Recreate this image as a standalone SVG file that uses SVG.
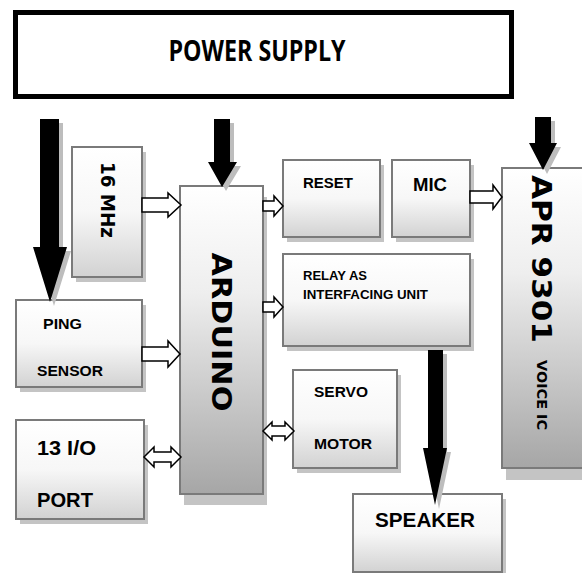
<svg xmlns="http://www.w3.org/2000/svg" width="582" height="573" viewBox="0 0 582 573">
<defs>
<linearGradient id="gl" x1="0" y1="0" x2="0" y2="1">
<stop offset="0" stop-color="#ffffff"/><stop offset="0.5" stop-color="#f7f7f7"/><stop offset="1" stop-color="#d2d2d2"/>
</linearGradient>
<linearGradient id="gd" x1="0" y1="0" x2="0" y2="1">
<stop offset="0" stop-color="#ffffff"/><stop offset="0.35" stop-color="#eeeeee"/><stop offset="1" stop-color="#a6a6a6"/>
</linearGradient>
<style>
.box{stroke:#7a7a7a;stroke-width:2}
.sh{fill:#c4c4c4}
.t{font-family:"Liberation Sans",Arial,sans-serif;font-weight:bold;fill:#000}
.v{font-family:"DejaVu Sans","Liberation Sans",sans-serif;font-weight:bold;fill:#000}
.ha{fill:#fff;stroke:#000;stroke-width:1.5;stroke-linejoin:miter}
.ba{fill:#000}
.bs{fill:#bdbdbd}
</style>
</defs>
<rect width="582" height="573" fill="#fff"/>

<g id="power-supply">
<rect x="15.5" y="12.5" width="496" height="84" fill="#fff" stroke="#000" stroke-width="5"/>
<text x="257" y="61" text-anchor="middle" font-family="'Open Sans','Noto Sans',sans-serif" font-weight="bold" font-size="29" textLength="177" lengthAdjust="spacingAndGlyphs">POWER SUPPLY</text>
</g>

<g id="mhz16">
<rect class="sh" x="76" y="152" width="70" height="130"/>
<rect class="box" x="72" y="147" width="70" height="130" fill="url(#gl)"/>
<text class="v" transform="translate(108,200) rotate(90)" x="0" y="7" text-anchor="middle" font-size="20" textLength="76" lengthAdjust="spacingAndGlyphs">16 MHz</text>
</g>

<g id="arduino">
<rect class="sh" x="184" y="197" width="83" height="308"/>
<rect class="box" x="180" y="186" width="83" height="308" fill="url(#gd)"/>
<text class="v" transform="translate(221,332) rotate(90)" x="0" y="9.5" text-anchor="middle" font-size="26" textLength="159" lengthAdjust="spacingAndGlyphs">ARDUINO</text>
</g>

<g id="reset">
<rect class="sh" x="287" y="165" width="97" height="77"/>
<rect class="box" x="283" y="160" width="97" height="77" fill="url(#gl)"/>
<text class="t" x="303" y="188" font-size="15" textLength="50" lengthAdjust="spacingAndGlyphs">RESET</text>
</g>

<g id="mic">
<rect class="sh" x="396" y="165" width="78" height="77"/>
<rect class="box" x="392" y="160" width="78" height="77" fill="url(#gl)"/>
<text class="t" x="413" y="191" font-size="19" textLength="34" lengthAdjust="spacingAndGlyphs">MIC</text>
</g>

<g id="apr9301">
<rect class="sh" x="506" y="179" width="90" height="301"/>
<rect class="box" x="502" y="168" width="90" height="300" fill="url(#gd)"/>
<text class="v" transform="translate(542,259) rotate(90)" x="0" y="10" text-anchor="middle" font-size="26" textLength="168" lengthAdjust="spacingAndGlyphs">APR 9301</text>
<text class="v" transform="translate(542,395) rotate(90)" x="0" y="5" text-anchor="middle" font-size="14" textLength="70" lengthAdjust="spacingAndGlyphs">VOICE IC</text>
</g>

<g id="relay">
<rect class="sh" x="287" y="259" width="187" height="92"/>
<rect class="box" x="283" y="254" width="187" height="92" fill="url(#gl)"/>
<text class="t" x="303" y="280" font-size="13" textLength="64" lengthAdjust="spacingAndGlyphs">RELAY AS</text>
<text class="t" x="303" y="299" font-size="13" textLength="125" lengthAdjust="spacingAndGlyphs">INTERFACING UNIT</text>
</g>

<g id="servo-motor">
<rect class="sh" x="297" y="375" width="104" height="98"/>
<rect class="box" x="293" y="370" width="104" height="98" fill="url(#gl)"/>
<text class="t" x="314" y="397" font-size="15" textLength="54" lengthAdjust="spacingAndGlyphs">SERVO</text>
<text class="t" x="314" y="449" font-size="15" textLength="58" lengthAdjust="spacingAndGlyphs">MOTOR</text>
</g>

<g id="speaker">
<rect class="sh" x="357" y="499" width="149" height="80"/>
<rect class="box" x="353" y="494" width="149" height="78" fill="url(#gl)"/>
<text class="t" x="375" y="527" font-size="20" textLength="100" lengthAdjust="spacingAndGlyphs">SPEAKER</text>
</g>

<g id="ping-sensor">
<rect class="sh" x="20" y="305" width="126" height="87"/>
<rect class="box" x="16" y="300" width="126" height="87" fill="url(#gl)"/>
<text class="t" x="43" y="329" font-size="15" textLength="39" lengthAdjust="spacingAndGlyphs">PING</text>
<text class="t" x="37" y="376" font-size="15" textLength="66" lengthAdjust="spacingAndGlyphs">SENSOR</text>
</g>

<g id="io-port">
<rect class="sh" x="20" y="425" width="128" height="99"/>
<rect class="box" x="16" y="420" width="128" height="99" fill="url(#gl)"/>
<text class="t" x="37" y="455" font-size="21" textLength="59" lengthAdjust="spacingAndGlyphs">13 I/O</text>
<text class="t" x="37" y="507" font-size="21" textLength="56" lengthAdjust="spacingAndGlyphs">PORT</text>
</g>

<g id="connectors">
<polygon class="bs" points="44,123 63,123 63,251 71,251 54,306 37,251 44,251"/>
<polygon class="ba" points="40,119 59,119 59,247 67,247 50,302 33,247 40,247"/>
<polygon class="bs" points="218,123 234,123 234,166 241,166 226,191 212,166 218,166"/>
<polygon class="ba" points="214,119 230,119 230,162 237,162 222,187 208,162 214,162"/>
<polygon class="bs" points="539,121 555,121 555,147 561,147 547,174 533,147 539,147"/>
<polygon class="ba" points="535,117 551,117 551,143 557,143 543,170 529,143 535,143"/>
<polygon class="bs" points="432,354 447,354 447,452 451,452 439,509 427,452 432,452"/>
<polygon class="ba" points="428,350 443,350 443,448 447,448 435,505 423,448 428,448"/>
<polygon class="ha" points="142,198 168,198 168,193 181,205 168,217 168,212 142,212"/>
<polygon class="ha" points="263,201 274,201 274,196 283,206 274,216 274,211 263,211"/>
<polygon class="ha" points="263,302 274,302 274,297 283,307 274,317 274,312 263,312"/>
<polygon class="ha" points="470,191 493,191 493,185 502,197 493,209 493,203 470,203"/>
<polygon class="ha" points="142,347 168,347 168,341 180,354 168,367 168,361 142,361"/>
<polygon class="ha" points="144,457 154,447 154,452 171,452 171,447 181,457 171,467 171,462 154,462 154,467"/>
<polygon class="ha" points="263,431 272,422 272,426 285,426 285,422 294,431 285,440 285,436 272,436 272,440"/>
</g>
</svg>
